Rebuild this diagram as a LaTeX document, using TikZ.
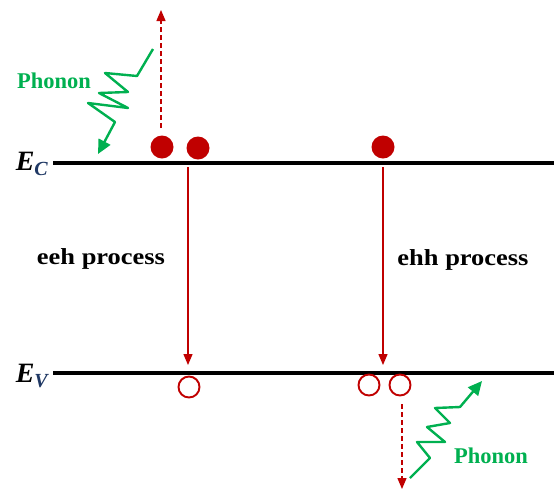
\documentclass[tikz,border=0pt]{standalone}
\usepackage{fontspec}
\setmainfont{Liberation Serif}
\newfontfamily\widefont[FakeStretch=1.15]{Liberation Serif}
\usetikzlibrary{arrows.meta}
\definecolor{dred}{RGB}{192,0,0}
\definecolor{pgreen}{RGB}{0,176,80}
\definecolor{sblue}{RGB}{31,56,100}
\begin{document}
\begin{tikzpicture}[x=1pt,y=-1pt,
  band/.style={line width=3.5pt,black},
  electron/.style={circle,fill=dred,minimum size=23pt,inner sep=0pt},
  hole/.style={circle,draw=dred,line width=1.9pt,fill=white,minimum size=21pt,inner sep=0pt},
  trans/.style={dred,line width=1.3pt,-{Triangle[length=11pt,width=9pt]}},
  emit/.style={dred,line width=1.3pt,dash pattern=on 5pt off 3pt,-{Triangle[length=11pt,width=9pt]}},
  phonon/.style={pgreen,line width=2.4pt,line join=round,-{Triangle[length=14pt,width=13pt]}},
  proc/.style={font=\widefont\fontsize{23}{25}\selectfont\bfseries},
  ptext/.style={font=\fontsize{22.5}{24}\selectfont\bfseries,text=pgreen},
  elabel/.style={font=\fontsize{28}{30}\selectfont\bfseries\itshape,inner sep=0pt}
]
\useasboundingbox (0,0) rectangle (554,491);
% bands
\coordinate (ec0) at (53,163);
\coordinate (ec1) at (554,163);
\coordinate (ev0) at (53,373);
\coordinate (ev1) at (554,373);
\draw[band] (ec0) -- (ec1);
\draw[band] (ev0) -- (ev1);
\node[elabel,anchor=east] (ecl) at (48,164) {E\raisebox{-0.45ex}{\fontsize{20}{22}\selectfont\textcolor{sblue}{C}}};
\node[elabel,anchor=east] (evl) at (48,376) {E\raisebox{-0.45ex}{\fontsize{20}{22}\selectfont\textcolor{sblue}{V}}};
% electrons
\node[electron] (e1) at (162,147) {};
\node[electron] (e2) at (198,148) {};
\node[electron] (e3) at (383,147) {};
% holes
\node[hole] (h1) at (189,387) {};
\node[hole] (h2) at (369,385) {};
\node[hole] (h3) at (400,385) {};
% transitions
\coordinate (t1s) at (188,167);
\coordinate (t1e) at (188,365);
\coordinate (t2s) at (383,167);
\coordinate (t2e) at (383,365);
\draw[trans] (t1s) -- (t1e);
\draw[trans] (t2s) -- (t2e);
% emitted carriers
\coordinate (up0) at (161,128);
\coordinate (up1) at (161,10);
\draw[emit] (up0) -- (up1);
\coordinate (dn0) at (402,404);
\coordinate (dn1) at (402,489);
\draw[emit] (dn0) -- (dn1);
% phonons
\draw[phonon] (153,49) -- (137,76) -- (105,73) -- (128,92) -- (99,93) -- (128,108) -- (88,103) -- (115,122) -- (98,154);
\draw[phonon] (410,478) -- (430,458) -- (417,442) -- (445,442) -- (427,427) -- (450,423) -- (435,408) -- (460,407) -- (482,381);
\node[ptext] (ph1) at (54,81) {Phonon};
\node[ptext] (ph2) at (491,456) {Phonon};
% process labels
\node[proc] (eeh) at (101,259) {eeh process};
\node[proc] (ehh) at (463,260) {ehh process};
\end{tikzpicture}
\end{document}
